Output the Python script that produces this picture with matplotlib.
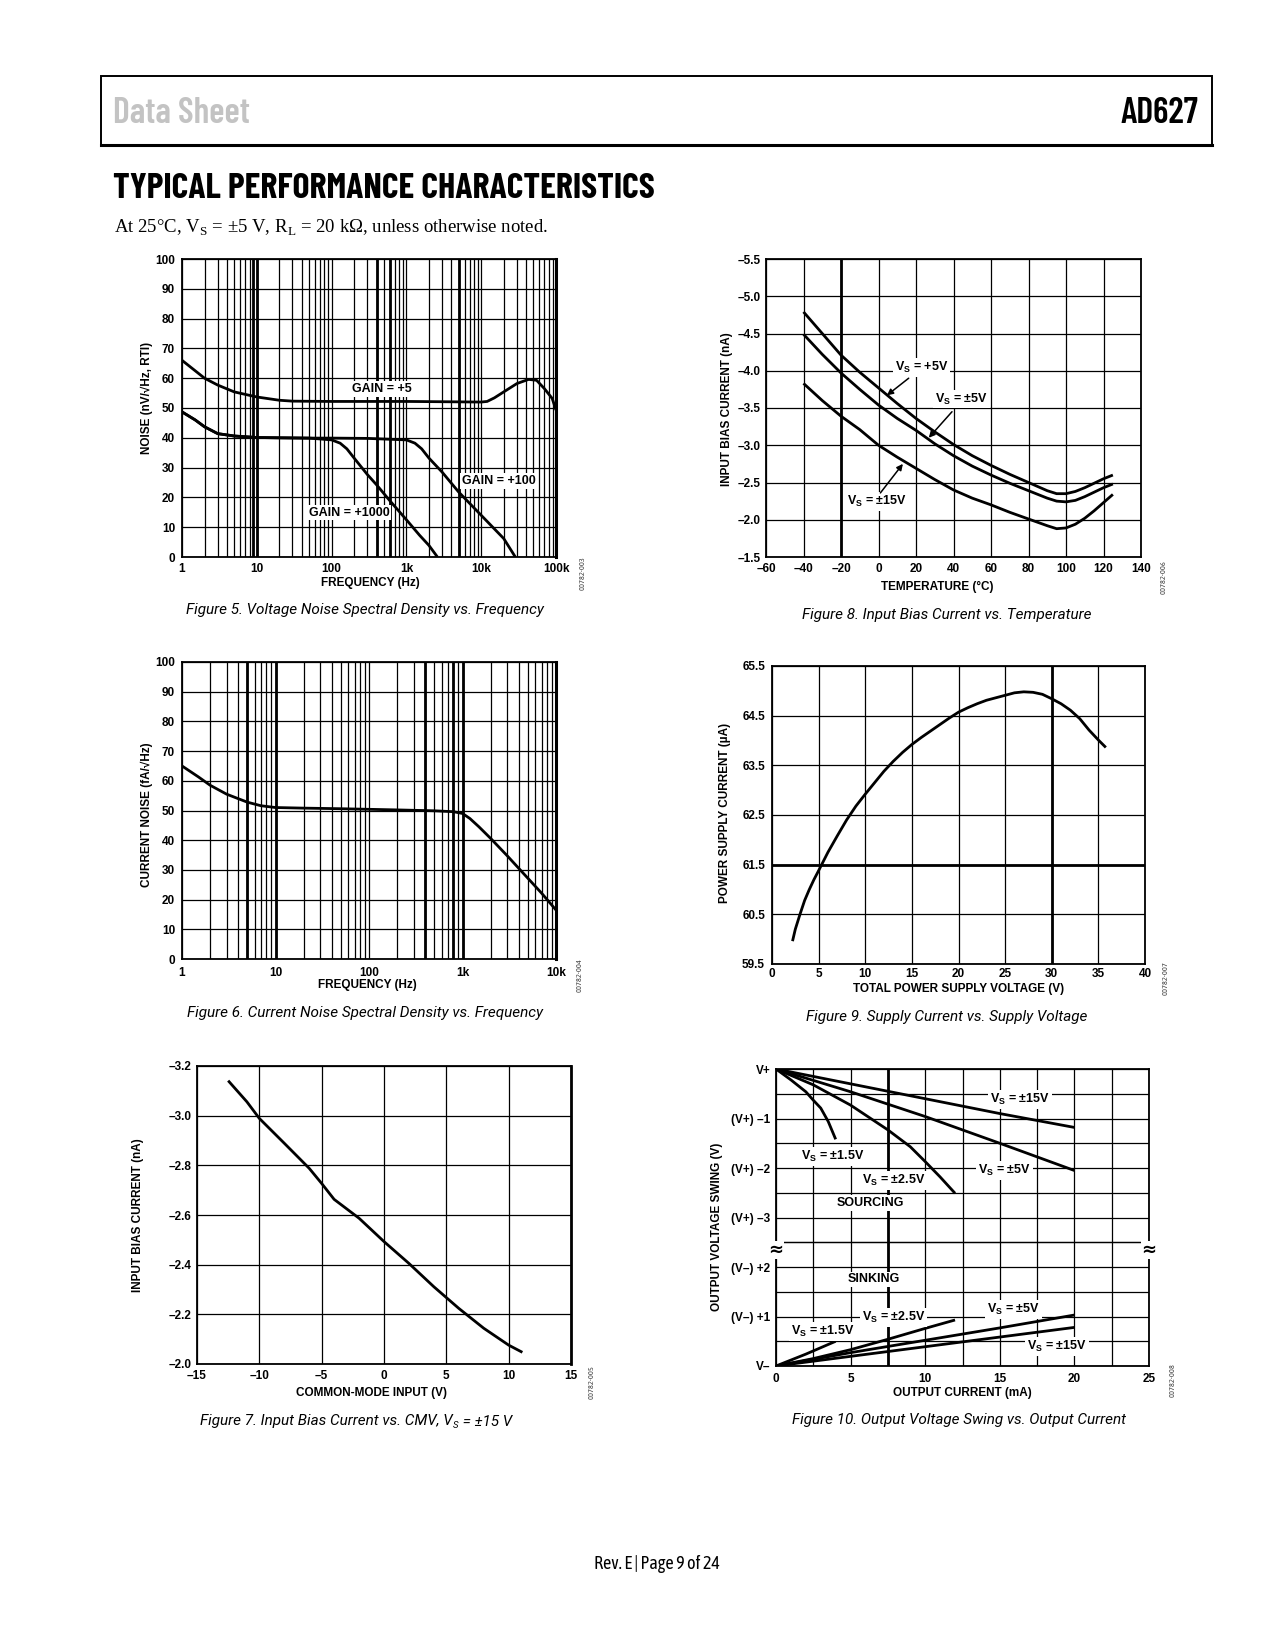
import os
import numpy as np
import matplotlib
matplotlib.use('Agg')
import matplotlib.pyplot as plt
from matplotlib import font_manager as fm
from matplotlib.ticker import LogLocator, NullFormatter, MultipleLocator
from matplotlib.transforms import blended_transform_factory
from matplotlib.patches import Rectangle
from matplotlib.lines import Line2D

# ---------------- data ----------------
# Figure 5 : voltage noise vs frequency
f5_gain5_freq = [1, 1.5, 2, 3, 5, 10, 20, 30, 100, 1000, 10000, 12000, 15000, 20000, 30000, 43000, 55000, 70000, 89000, 100000]
f5_gain5_noise = [66, 62.5, 60, 57.7, 55.4, 53.7, 52.6, 52.3, 52.2, 52.2, 52.0, 52.2, 53.4, 55.4, 58.2, 59.6, 59.3, 56.5, 53.2, 49.3]
f5_gain100_freq = [1, 1.5, 2, 3, 5, 10, 20, 50, 100, 300, 1000, 1300, 1600, 2000, 3000, 5000, 10000, 20000, 28600]
f5_gain100_noise = [48.7, 46.0, 43.7, 41.4, 40.6, 40.1, 40.0, 39.9, 39.9, 39.8, 39.3, 38.2, 36.3, 33.2, 28.5, 21.8, 14.0, 6.2, 0.0]
f5_gain1000_freq = [1, 1.5, 2, 3, 5, 10, 20, 50, 100, 130, 160, 200, 300, 400, 600, 1000, 1500, 2000, 2600]
f5_gain1000_noise = [48.7, 46.0, 43.7, 41.4, 40.6, 40.1, 40.0, 39.9, 39.3, 38.2, 36.3, 33.2, 27.7, 24.2, 18.9, 12.5, 7.3, 3.9, 0.0]
f5_xticks = [1, 10, 100, 1e3, 1e4, 1e5]
f5_xticklabels = ['1', '10', '100', '1k', '10k', '100k']
f5_yticks = list(range(0, 101, 10))

# Figure 6 : current noise vs frequency
f6_freq = [1, 1.5, 2, 3, 5, 7, 10, 20, 50, 100, 200, 500, 800, 1000, 1200, 1500, 2000, 3000, 5000, 7000, 10000]
f6_noise = [65, 61.3, 58.5, 55.5, 52.8, 51.6, 51.0, 50.8, 50.6, 50.4, 50.2, 49.9, 49.6, 49.0, 47.3, 44.5, 40.6, 34.8, 27.2, 22.2, 16.5]
f6_xticks = [1, 10, 100, 1e3, 1e4]
f6_xticklabels = ['1', '10', '100', '1k', '10k']
f6_yticks = list(range(0, 101, 10))

# Figure 7 : input bias current vs common-mode input
f7_cmv = [-12.5, -11, -10, -8, -6, -5, -4, -2, 0, 2, 4, 6, 8, 10, 11.1]
f7_ib = [-3.141, -3.056, -2.989, -2.889, -2.788, -2.727, -2.663, -2.587, -2.493, -2.405, -2.311, -2.224, -2.144, -2.076, -2.047]
f7_xticks = [-15, -10, -5, 0, 5, 10, 15]
f7_yticks = [-3.2, -3.0, -2.8, -2.6, -2.4, -2.2, -2.0]

# Figure 8 : input bias current vs temperature
f8_temp = [-40, -30, -20, -10, 0, 10, 20, 30, 40, 50, 60, 70, 80, 90, 95, 100, 105, 110, 115, 120, 125]
f8_vs_p5 = [-4.79, -4.50, -4.21, -3.98, -3.77, -3.56, -3.36, -3.18, -3.01, -2.86, -2.73, -2.61, -2.50, -2.39, -2.35, -2.35, -2.38, -2.43, -2.49, -2.55, -2.60]
f8_vs_pm5 = [-4.49, -4.22, -3.97, -3.75, -3.54, -3.36, -3.20, -3.02, -2.86, -2.72, -2.60, -2.49, -2.39, -2.29, -2.25, -2.24, -2.26, -2.31, -2.37, -2.43, -2.48]
f8_vs_pm15 = [-3.83, -3.60, -3.39, -3.21, -3.00, -2.84, -2.69, -2.54, -2.40, -2.29, -2.20, -2.10, -2.01, -1.92, -1.88, -1.89, -1.94, -2.02, -2.12, -2.23, -2.34]
f8_xticks = list(range(-60, 141, 20))
f8_yticks = [-5.5, -5.0, -4.5, -4.0, -3.5, -3.0, -2.5, -2.0, -1.5]

# Figure 9 : supply current vs supply voltage
f9_volt = [2.2, 2.5, 3, 3.5, 4, 4.5, 5, 6, 7, 8, 9, 10, 11, 12, 13, 14, 15, 16, 17, 18, 19, 20,
           21, 22, 23, 24, 25, 26, 27, 28, 29, 30, 31, 32, 33, 34, 35, 35.8]
f9_curr = [59.96, 60.2, 60.5, 60.78, 61.0, 61.2, 61.38, 61.75, 62.08, 62.40, 62.68, 62.92, 63.15, 63.38,
           63.58, 63.76, 63.92, 64.06, 64.19, 64.32, 64.45, 64.57, 64.66, 64.74, 64.81, 64.86, 64.91,
           64.96, 64.98, 64.97, 64.93, 64.84, 64.74, 64.61, 64.44, 64.21, 64.01, 63.86]
f9_xticks = list(range(0, 41, 5))
f9_yticks = [59.5, 60.5, 61.5, 62.5, 63.5, 64.5, 65.5]

# Figure 10 : output swing vs output current (drop below V+, rise above V-)
f10_src15_i = [0, 5, 10, 15, 20]
f10_src15_v = [0, 0.30, 0.60, 0.90, 1.18]
f10_src5_i = [0, 5, 10, 15, 20]
f10_src5_v = [0, 0.46, 0.96, 1.50, 2.05]
f10_src25_i = [0, 2.5, 5, 7.5, 9, 10, 11, 12]
f10_src25_v = [0, 0.32, 0.73, 1.23, 1.57, 1.87, 2.18, 2.51]
f10_src15b_i = [0, 1, 2, 2.5, 3, 3.5, 4]
f10_src15b_v = [0, 0.22, 0.46, 0.63, 0.79, 1.06, 1.42]
f10_snk15_i = [0, 10, 20]
f10_snk15_v = [0, 0.39, 0.78]
f10_snk5_i = [0, 5, 10, 15, 20]
f10_snk5_v = [0, 0.27, 0.52, 0.77, 1.03]
f10_snk25_i = [0, 2.5, 5, 7.5, 10, 12]
f10_snk25_v = [0, 0.15, 0.33, 0.54, 0.76, 0.93]
f10_snk15b_i = [0, 2, 4]
f10_snk15b_v = [0, 0.24, 0.50]
f10_xticks = [0, 5, 10, 15, 20, 25]
f10_up_ticks = [0, -1, -2, -3]
f10_up_labels = ['V+', '(V+) \u20131', '(V+) \u20132', '(V+) \u20133']
f10_lo_ticks = [0, 1, 2]
f10_lo_labels = ['V\u2013', '(V\u2013) +1', '(V\u2013) +2']

# ---------------- setup ----------------
W, H = 1275, 1650
plt.rcParams.update({
    'font.family': ['Liberation Sans', 'DejaVu Sans'],
    'font.size': 8.5,
    'font.weight': 'bold',
    'mathtext.fontset': 'custom',
    'mathtext.bf': 'Liberation Sans:bold',
    'mathtext.rm': 'Liberation Serif:weight=normal',
    'axes.linewidth': 1.3,
})

def find_font(stems):
    files = {os.path.splitext(os.path.basename(f.fname))[0].lower(): f.fname for f in fm.fontManager.ttflist}
    for s in stems:
        if s.lower() in files:
            return files[s.lower()]
    return None

hdr_file = find_font(['BarlowCondensed-SemiBold', 'BarlowCondensed-Bold', 'DejaVuSansCondensed-Bold'])
title_file = find_font(['BarlowCondensed-Bold', 'BarlowCondensed-SemiBold', 'DejaVuSansCondensed-Bold'])
cap_file = find_font(['Roboto-Italic', 'AsapCondensed-Italic'])
foot_file = find_font(['AsapCondensed-Regular', 'BarlowSemiCondensed-Regular', 'DejaVuSansCondensed'])

def fp(file, size, **fallback):
    if file:
        return fm.FontProperties(fname=file, size=size)
    return fm.FontProperties(size=size, **fallback)

fig = plt.figure(figsize=(W / 100, H / 100), dpi=100)

def px(x, y):
    return x / W, 1 - y / H

def add_ax(box):
    l, t, r, b = box
    return fig.add_axes([l / W, 1 - b / H, (r - l) / W, (b - t) / H])

def base_style(ax, xpad, ypad):
    ax.set_axisbelow(True)
    ax.tick_params(which='both', length=0)
    ax.tick_params(axis='x', pad=xpad, labelsize=8.5)
    ax.tick_params(axis='y', pad=ypad, labelsize=8.5)
    for s in ax.spines.values():
        s.set_linewidth(1.3)

def label_at(ax, box, xl, xc, yl, yc):
    l, t, r, b = box
    if xl is not None:
        ax.set_xlabel(xl, fontsize=8.5, fontweight='bold', va='center', ha='center')
        ax.xaxis.set_label_coords((xc[0] - l) / (r - l), (b - xc[1]) / (b - t))
    if yl is not None:
        ax.set_ylabel(yl, fontsize=8.5, fontweight='bold', va='center', ha='center')
        ax.yaxis.set_label_coords((yc[0] - l) / (r - l), (b - yc[1]) / (b - t))

GRID = dict(color='black', lw=0.9)
CURVE = dict(color='black', lw=2.0, solid_joinstyle='round', solid_capstyle='butt', zorder=3)
BOX = dict(boxstyle='square,pad=0.15', fc='white', ec='none')
cap_prop = fp(cap_file, 11, family='Roboto', style='italic')
code_prop = fp(foot_file, 6, family='Liberation Sans')
code_kw = dict(fontproperties=code_prop, color='#444444', rotation=90, ha='center', va='center')

# ---------------- header ----------------
fig.patches.append(Rectangle(px(101, 145), (1212 - 101) / W, (145 - 76) / H, transform=fig.transFigure,
                             fill=False, lw=1.4, ec='black'))
fig.lines.append(Line2D([101 / W, 1212 / W], [1 - 145 / H] * 2, transform=fig.transFigure, color='black', lw=2.2))
hdr_prop = fp(hdr_file, 25.8, family='Liberation Sans', weight='bold')
fig.text(*px(112.5, 122.7), 'Data Sheet', fontproperties=hdr_prop, color='#c3c3c3', ha='left', va='baseline')
fig.text(*px(1198, 122.7), 'AD627', fontproperties=hdr_prop, color='black', ha='right', va='baseline')
title_prop = fp(title_file, 25.8, family='Liberation Sans', weight='bold')
fig.text(*px(113, 198), 'TYPICAL PERFORMANCE CHARACTERISTICS', fontproperties=title_prop, color='black',
         ha='left', va='baseline')
fig.text(*px(113.5, 232.7), r'At 25°C, V$_\mathrm{S}$ = ±5 V, R$_\mathrm{L}$ = 20 kΩ, unless otherwise noted.',
         fontfamily='Liberation Serif', fontweight='normal', fontsize=13.5, ha='left', va='baseline')
foot_prop = fp(foot_file, 13, family='Liberation Sans')
fig.text(*px(657, 1564), 'Rev. E | Page 9 of 24', fontproperties=foot_prop,
         ha='center', va='center')

# ---------------- Figure 5 ----------------
B5 = (182, 259, 556, 557)
ax5 = add_ax(B5)
base_style(ax5, 4, 5)
ax5.set_xscale('log')
ax5.set_xlim(1, 1e5)
ax5.set_ylim(0, 100)
ax5.set_xticks(f5_xticks, f5_xticklabels)
ax5.xaxis.set_minor_locator(LogLocator(base=10, subs=np.arange(2, 10), numticks=60))
ax5.xaxis.set_minor_formatter(NullFormatter())
ax5.set_yticks(f5_yticks)
ax5.grid(True, which='both', axis='x', **GRID)
ax5.grid(True, which='major', axis='y', **GRID)
for f in [9, 10, 400, 600, 5000]:
    ax5.axvline(f, color='black', lw=2.0, zorder=1)
ax5.spines['right'].set_linewidth(2.2)
ax5.plot(f5_gain5_freq, f5_gain5_noise, **CURVE)
ax5.plot(f5_gain100_freq, f5_gain100_noise, **CURVE)
ax5.plot(f5_gain1000_freq, f5_gain1000_noise, **CURVE)
ax5.text(472, 56.4, 'GAIN = +5', ha='center', va='center', fontsize=9, bbox=BOX, zorder=4)
ax5.text(17300, 25.6, 'GAIN = +100', ha='center', va='center', fontsize=9, bbox=BOX, zorder=4)
ax5.text(171, 14.9, 'GAIN = +1000', ha='center', va='center', fontsize=9, bbox=BOX, zorder=4)
label_at(ax5, B5, 'FREQUENCY (Hz)', (370, 582.7), 'NOISE (nV/\u221aHz, RTI)', (146.7, 397.5))
fig.text(*px(365, 610), 'Figure 5. Voltage Noise Spectral Density vs. Frequency', fontproperties=cap_prop,
         ha='center', va='center')
fig.text(*px(583, 573), '00782-003', **code_kw)

# ---------------- Figure 8 ----------------
B8 = (766, 259, 1141, 557)
ax8 = add_ax(B8)
base_style(ax8, 4, 4)
ax8.set_xlim(-60, 140)
ax8.set_ylim(-1.5, -5.5)
ax8.set_xticks(f8_xticks, [('%d' % v).replace('-', '\u2013') for v in f8_xticks])
ax8.set_yticks(f8_yticks, [('%.1f' % v).replace('-', '\u2013') for v in f8_yticks])
ax8.grid(True, which='major', **GRID)
ax8.axvline(-20, color='black', lw=2.0, zorder=1)
ax8.plot(f8_temp, f8_vs_p5, **CURVE)
ax8.plot(f8_temp, f8_vs_pm5, **CURVE)
ax8.plot(f8_temp, f8_vs_pm15, **CURVE)
ARW = dict(arrowstyle='-|>', color='black', lw=1.1, mutation_scale=9, shrinkA=0, shrinkB=0)
ax8.text(23.0, -4.04, r'V$_\mathbf{S}$ = +5V', ha='center', va='center', fontsize=9, bbox=BOX, zorder=4)
ax8.annotate('', xy=(4.5, -3.67), xytext=(16.1, -3.9), arrowprops=ARW, zorder=4)
ax8.text(44.4, -3.62, r'V$_\mathbf{S}$ = ±5V', ha='center', va='center', fontsize=9, bbox=BOX, zorder=4)
ax8.annotate('', xy=(26.8, -3.10), xytext=(39.2, -3.45), arrowprops=ARW, zorder=4)
ax8.text(-0.96, -2.24, r'V$_\mathbf{S}$ = ±15V', ha='center', va='center', fontsize=9, bbox=BOX, zorder=4)
ax8.annotate('', xy=(13.0, -2.75), xytext=(1.0, -2.36), arrowprops=ARW, zorder=4)
label_at(ax8, B8, 'TEMPERATURE (°C)', (937, 587.3), 'INPUT BIAS CURRENT (nA)', (726.7, 409))
fig.text(*px(946.7, 615), 'Figure 8. Input Bias Current vs. Temperature', fontproperties=cap_prop,
         ha='center', va='center')
fig.text(*px(1164, 577), '00782-006', **code_kw)

# ---------------- Figure 6 ----------------
B6 = (182, 662, 556, 959)
ax6 = add_ax(B6)
base_style(ax6, 6, 5)
ax6.set_xscale('log')
ax6.set_xlim(1, 1e4)
ax6.set_ylim(0, 100)
ax6.set_xticks(f6_xticks, f6_xticklabels)
ax6.xaxis.set_minor_locator(LogLocator(base=10, subs=np.arange(2, 10), numticks=60))
ax6.xaxis.set_minor_formatter(NullFormatter())
ax6.set_yticks(f6_yticks)
ax6.grid(True, which='both', axis='x', **GRID)
ax6.grid(True, which='major', axis='y', **GRID)
for f in [5, 10, 400, 800, 1000]:
    ax6.axvline(f, color='black', lw=2.0, zorder=1)
ax6.spines['right'].set_linewidth(2.2)
ax6.plot(f6_freq, f6_noise, **CURVE)
label_at(ax6, B6, 'FREQUENCY (Hz)', (367, 985), 'CURRENT NOISE (fA/\u221aHz)', (146.7, 815))
fig.text(*px(365, 1013), 'Figure 6. Current Noise Spectral Density vs. Frequency', fontproperties=cap_prop,
         ha='center', va='center')
fig.text(*px(580, 975), '00782-004', **code_kw)

# ---------------- Figure 9 ----------------
B9 = (772, 666, 1145, 964)
ax9 = add_ax(B9)
base_style(ax9, 3, 5)
ax9.set_xlim(0, 40)
ax9.set_ylim(59.5, 65.5)
ax9.set_xticks(f9_xticks)
ax9.set_yticks(f9_yticks, ['%.1f' % v for v in f9_yticks])
ax9.grid(True, which='major', **GRID)
ax9.axvline(30, color='black', lw=2.0, zorder=1)
ax9.axhline(61.5, color='black', lw=2.0, zorder=1)
ax9.plot(f9_volt, f9_curr, **CURVE)
label_at(ax9, B9, 'TOTAL POWER SUPPLY VOLTAGE (V)', (959, 989), 'POWER SUPPLY CURRENT (\u00b5A)', (725, 813))
fig.text(*px(946.7, 1017), 'Figure 9. Supply Current vs. Supply Voltage', fontproperties=cap_prop,
         ha='center', va='center')
fig.text(*px(1166, 978), '00782-007', **code_kw)

# ---------------- Figure 7 ----------------
B7 = (197, 1066, 571, 1364)
ax7 = add_ax(B7)
base_style(ax7, 4, 4)
ax7.set_xlim(-15, 15)
ax7.set_ylim(-2.0, -3.2)
ax7.set_xticks(f7_xticks, [('%d' % v).replace('-', '\u2013') for v in f7_xticks])
ax7.set_yticks(f7_yticks, [('%.1f' % v).replace('-', '\u2013') for v in f7_yticks])
ax7.grid(True, which='major', **GRID)
ax7.spines['right'].set_linewidth(2.0)
ax7.plot(f7_cmv, f7_ib, **CURVE)
label_at(ax7, B7, 'COMMON-MODE INPUT (V)', (372, 1393), 'INPUT BIAS CURRENT (nA)', (138.3, 1215))
fig.text(*px(592, 1382), '00782-005', **code_kw)

# caption with subscript, composed from pieces
def sub_caption(cx, base_y, parts, prop, subprop, drop, gap):
    r = fig.canvas.get_renderer()
    objs, x = [], 0.0
    for s, sub in parts:
        t = fig.text(0, 0, s, fontproperties=subprop if sub else prop, ha='left', va='baseline')
        objs.append((t, x, sub))
        x += t.get_window_extent(r).width + (gap if sub else 0)
    x0 = cx - x / 2
    for t, dx, sub in objs:
        t.set_position(px(x0 + dx, base_y + (drop if sub else 0)))

cap_sub = cap_prop.copy()
cap_sub.set_size(cap_prop.get_size() * 0.62)
sub_caption(355.8, 1425.5, [('Figure 7. Input Bias Current vs. CMV, V', False), ('S', True), (' = ±15 V', False)],
            cap_prop, cap_sub, 2.5, 0.8)

# ---------------- Figure 10 ----------------
B10u = (776, 1069, 1149, 1242.3)
B10l = (776, 1242.3, 1149, 1366)
ax10u = add_ax(B10u)
ax10l = add_ax(B10l)
for a in (ax10u, ax10l):
    base_style(a, 5, 4)
    a.set_xlim(0, 25)
    a.set_xticks(f10_xticks)
    a.xaxis.set_minor_locator(MultipleLocator(2.5))
    a.yaxis.set_minor_locator(MultipleLocator(0.5))
    a.grid(True, which='both', **GRID)
    a.axvline(7.5, color='black', lw=2.0, zorder=1)
ax10u.set_ylim(-3.5, 0)
ax10u.set_yticks(f10_up_ticks, f10_up_labels)
ax10u.tick_params(axis='x', labelbottom=False)
ax10u.spines['bottom'].set_visible(False)
ax10l.set_ylim(0, 2.5)
ax10l.set_yticks(f10_lo_ticks, f10_lo_labels)
ax10l.spines['top'].set_linewidth(0.9)
ax10u.plot(f10_src15_i, [-v for v in f10_src15_v], **CURVE)
ax10u.plot(f10_src5_i, [-v for v in f10_src5_v], **CURVE)
ax10u.plot(f10_src25_i, [-v for v in f10_src25_v], **CURVE)
ax10u.plot(f10_src15b_i, [-v for v in f10_src15b_v], **CURVE)
ax10l.plot(f10_snk15_i, f10_snk15_v, **CURVE)
ax10l.plot(f10_snk5_i, f10_snk5_v, **CURVE)
ax10l.plot(f10_snk25_i, f10_snk25_v, **CURVE)
ax10l.plot(f10_snk15b_i, f10_snk15b_v, **CURVE)
LK = dict(ha='center', va='center', fontsize=9, bbox=BOX, zorder=4)
ax10u.text(16.35, -0.61, r'V$_\mathbf{S}$ = ±15V', **LK)
ax10u.text(3.78, -1.77, r'V$_\mathbf{S}$ = ±1.5V', **LK)
ax10u.text(15.33, -2.05, r'V$_\mathbf{S}$ = ±5V', **LK)
ax10u.text(7.91, -2.26, r'V$_\mathbf{S}$ = ±2.5V', **LK)
ax10u.text(6.3, -2.71, 'SOURCING', **LK)
ax10l.text(6.55, 1.75, 'SINKING', **LK)
ax10l.text(15.9, 1.145, r'V$_\mathbf{S}$ = ±5V', **LK)
ax10l.text(7.89, 0.976, r'V$_\mathbf{S}$ = ±2.5V', **LK)
ax10l.text(3.15, 0.69, r'V$_\mathbf{S}$ = ±1.5V', **LK)
ax10l.text(18.83, 0.40, r'V$_\mathbf{S}$ = ±15V', **LK)
bt = blended_transform_factory(ax10l.transAxes, ax10l.transData)
for xx in (0, 1):
    ax10l.text(xx, 2.34, '\u2248', transform=bt, ha='center', va='center', fontsize=13, fontweight='bold',
               family=['DejaVu Sans'], bbox=dict(boxstyle='square,pad=0.0', fc='white', ec='none'), zorder=5,
               clip_on=False)
label_at(ax10l, B10l, 'OUTPUT CURRENT (mA)', (962, 1393), 'OUTPUT VOLTAGE SWING (V)', (716.7, 1226.7))
fig.text(*px(959, 1420), 'Figure 10. Output Voltage Swing vs. Output Current', fontproperties=cap_prop,
         ha='center', va='center')
fig.text(*px(1173, 1380), '00782-008', **code_kw)

fig.savefig('out.png', dpi=100)
